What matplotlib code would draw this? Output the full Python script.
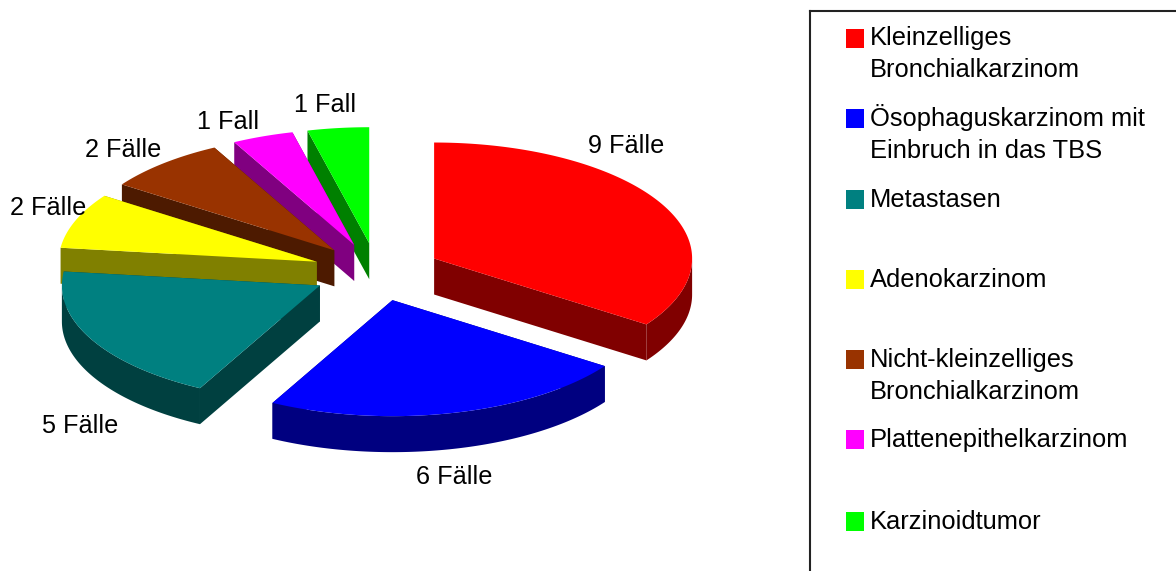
from __future__ import annotations
import numpy as np
import matplotlib
matplotlib.use("Agg")
import matplotlib.pyplot as plt
from matplotlib.patches import Polygon, Rectangle

# Fallzahlen je Tumorart
categories = [
    "Kleinzelliges\nBronchialkarzinom",
    "Ösophaguskarzinom mit\nEinbruch in das TBS",
    "Metastasen",
    "Adenokarzinom",
    "Nicht-kleinzelliges\nBronchialkarzinom",
    "Plattenepithelkarzinom",
    "Karzinoidtumor",
]
cases = [9, 6, 5, 2, 2, 1, 1]
case_labels = ["9 Fälle", "6 Fälle", "5 Fälle", "2 Fälle", "2 Fälle", "1 Fall", "1 Fall"]

top_colors = ["#ff0000", "#0000ff", "#008080", "#ffff00", "#993300", "#ff00ff", "#00ff00"]
side_colors = ["#800000", "#000080", "#004040", "#808000", "#4d1a00", "#800080", "#008000"]

# pie geometry in pixels
CX, CY = 377.0, 272.0
RX, RY = 258.0, 116.0
DEPTH = 36.0
EXPLODE = 0.25

label_pos = [(626, 146), (454, 477), (80, 426), (48, 208), (123, 150), (228, 122), (325, 105)]
swatch_y = [38.5, 118.5, 199.5, 279.5, 359.5, 439.5, 521.5]
text_y = [45, 126, 207, 287, 367, 447, 529]
LINE_H = 32
FONT = "Liberation Sans"
FS_LABEL = 18.2
FS_LEGEND = 18.4


def rim_point(cx, cy, ang):
    # angles run clockwise from 12 o'clock
    return cx + RX * np.sin(ang), cy - RY * np.cos(ang)


def draw_slice(ax, start, end, top, side):
    mid = (start + end) / 2
    cx = CX + EXPLODE * RX * np.sin(mid)
    cy = CY - EXPLODE * RY * np.cos(mid)

    # radial walls
    for ang in (start, end):
        x, y = rim_point(cx, cy, ang)
        wall = [(cx, cy), (x, y), (x, y + DEPTH), (cx, cy + DEPTH)]
        ax.add_patch(Polygon(wall, fc=side, lw=0))

    # outer wall, only the front half of the ellipse shows
    a0, a1 = max(start, np.pi / 2), min(end, 3 * np.pi / 2)
    if a1 > a0:
        t = np.linspace(a0, a1, 120)
        xs, ys = rim_point(cx, cy, t)
        pts = list(zip(xs, ys)) + list(zip(xs[::-1], ys[::-1] + DEPTH))
        ax.add_patch(Polygon(pts, fc=side, lw=0))

    t = np.linspace(start, end, 200)
    xs, ys = rim_point(cx, cy, t)
    ax.add_patch(Polygon([(cx, cy)] + list(zip(xs, ys)), fc=top, lw=0))


def main() -> None:
    fig = plt.figure(figsize=(11.76, 5.71), dpi=100)
    ax = fig.add_axes([0, 0, 1, 1])
    ax.set_xlim(0, 1176)
    ax.set_ylim(571, 0)
    ax.axis("off")

    edges = np.cumsum([0] + cases) / sum(cases) * 2 * np.pi

    # back slices first, red last so the front ones sit on top
    for i in range(len(cases) - 1, -1, -1):
        draw_slice(ax, edges[i], edges[i + 1], top_colors[i], side_colors[i])

    for txt, (x, y) in zip(case_labels, label_pos):
        ax.text(x, y, txt, ha="center", va="center", family=FONT, fontsize=FS_LABEL, color="black")

    # legend frame runs off the right and bottom edge
    ax.plot([810, 810], [571, 11], color="#222222", lw=1.5, solid_capstyle="projecting")
    ax.plot([810, 1176], [11, 11], color="#222222", lw=1.5, solid_capstyle="projecting")

    for i, name in enumerate(categories):
        ax.add_patch(Rectangle((846, swatch_y[i] - 9.5), 18, 19, fc=top_colors[i], lw=0))
        for j, line in enumerate(name.split("\n")):
            ax.text(870, text_y[i] + j * LINE_H, line, ha="left", va="baseline",
                    family=FONT, fontsize=FS_LEGEND, color="black")

    fig.savefig("out.png", dpi=100)


if __name__ == "__main__":
    main()
